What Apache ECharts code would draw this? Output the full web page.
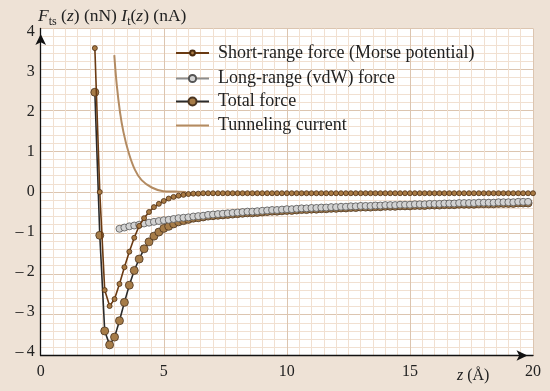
<!DOCTYPE html>
<html>
<head>
<meta charset="utf-8">
<script src="https://cdn.jsdelivr.net/npm/echarts@6/dist/echarts.min.js"></script>
<style>
html,body{margin:0;padding:0;background:#EEE2D6;}
#chart{width:550px;height:391px;}
</style>
</head>
<body>
<div id="chart"></div>
<script>
// z positions (Å) shared by the force curves
var zGrid = [2.2, 2.4, 2.6, 2.8,
  3.0, 3.2, 3.4, 3.6, 3.8,
  4.0, 4.2, 4.4, 4.6, 4.8,
  5.0, 5.2, 5.4, 5.6, 5.8,
  6.0, 6.2, 6.4, 6.6, 6.8,
  7.0, 7.2, 7.4, 7.6, 7.8,
  8.0, 8.2, 8.4, 8.6, 8.8,
  9.0, 9.2, 9.4, 9.6, 9.8,
  10.0, 10.2, 10.4, 10.6, 10.8,
  11.0, 11.2, 11.4, 11.6, 11.8,
  12.0, 12.2, 12.4, 12.6, 12.8,
  13.0, 13.2, 13.4, 13.6, 13.8,
  14.0, 14.2, 14.4, 14.6, 14.8,
  15.0, 15.2, 15.4, 15.6, 15.8,
  16.0, 16.2, 16.4, 16.6, 16.8,
  17.0, 17.2, 17.4, 17.6, 17.8,
  18.0, 18.2, 18.4, 18.6, 18.8,
  19.0, 19.2, 19.4, 19.6, 19.8,
  20.0];

// Short-range force (Morse potential), nN
var fShort = [3.52, 0.00, -2.40, -2.79,
  -2.62, -2.25, -1.84, -1.46, -1.12,
  -0.83, -0.64, -0.49, -0.37, -0.29,
  -0.22, -0.16, -0.12, -0.09, -0.07,
  -0.05, -0.04, -0.04, -0.03, -0.03,
  -0.03, -0.03, -0.03, -0.03, -0.03,
  -0.03, -0.03, -0.03, -0.03, -0.03,
  -0.03, -0.03, -0.03, -0.03, -0.03,
  -0.03, -0.03, -0.03, -0.03, -0.03,
  -0.03, -0.03, -0.03, -0.03, -0.03,
  -0.03, -0.03, -0.03, -0.03, -0.03,
  -0.03, -0.03, -0.03, -0.03, -0.03,
  -0.03, -0.03, -0.03, -0.03, -0.03,
  -0.03, -0.03, -0.03, -0.03, -0.03,
  -0.03, -0.03, -0.03, -0.03, -0.03,
  -0.03, -0.03, -0.03, -0.03, -0.03,
  -0.03, -0.03, -0.03, -0.03, -0.03,
  -0.03, -0.03, -0.03, -0.03, -0.03,
  -0.03];

// Long-range (vdW) force, nN
var fLong = [null, null, null, null,
  null, -0.90, -0.87, -0.84, -0.82,
  -0.80, -0.77, -0.75, -0.73, -0.71,
  -0.69, -0.68, -0.66, -0.64, -0.63,
  -0.62, -0.60, -0.59, -0.58, -0.56,
  -0.55, -0.54, -0.53, -0.52, -0.51,
  -0.50, -0.49, -0.48, -0.48, -0.47,
  -0.46, -0.45, -0.44, -0.44, -0.43,
  -0.42, -0.42, -0.41, -0.40, -0.40,
  -0.39, -0.39, -0.38, -0.38, -0.37,
  -0.37, -0.36, -0.36, -0.35, -0.35,
  -0.34, -0.34, -0.34, -0.33, -0.33,
  -0.32, -0.32, -0.32, -0.31, -0.31,
  -0.31, -0.30, -0.30, -0.30, -0.29,
  -0.29, -0.29, -0.28, -0.28, -0.28,
  -0.27, -0.27, -0.27, -0.27, -0.26,
  -0.26, -0.26, -0.26, -0.25, -0.25,
  -0.25, -0.25, -0.24, -0.24, -0.24,
  null];

// Total force, nN
var fTotal = [2.44, -1.06, -3.40, -3.74,
  -3.55, -3.15, -2.70, -2.28, -1.92,
  -1.64, -1.39, -1.22, -1.08, -0.98,
  -0.89, -0.84, -0.78, -0.73, -0.70,
  -0.67, -0.64, -0.63, -0.61, -0.59,
  -0.58, -0.57, -0.56, -0.55, -0.54,
  -0.53, -0.52, -0.51, -0.51, -0.50,
  -0.49, -0.48, -0.47, -0.47, -0.46,
  -0.45, -0.45, -0.44, -0.43, -0.43,
  -0.42, -0.42, -0.41, -0.41, -0.40,
  -0.40, -0.39, -0.39, -0.38, -0.38,
  -0.37, -0.37, -0.37, -0.36, -0.36,
  -0.35, -0.35, -0.35, -0.34, -0.34,
  -0.34, -0.33, -0.33, -0.33, -0.32,
  -0.32, -0.32, -0.31, -0.31, -0.31,
  -0.30, -0.30, -0.30, -0.30, -0.29,
  -0.29, -0.29, -0.29, -0.28, -0.28,
  -0.28, -0.28, -0.27, -0.27, -0.27,
  null];

// Tunneling current, nA
var zTunnel = [2.99, 3.09, 3.22, 3.36, 3.56, 3.83, 4.10, 4.51, 4.98, 5.46, 5.90];
var iTunnel = [3.35, 2.62, 1.96, 1.47, 0.99, 0.54, 0.29, 0.11, 0.02, 0.01, 0.00];

var seriesNames = ['Short-range force (Morse potential)', 'Long-range (vdW) force', 'Total force', 'Tunneling current'];
var xTicks = [0, 5, 10, 15, 20];
var yTicks = [-4, -3, -2, -1, 0, 1, 2, 3, 4];

function pairs(xs, ys) {
  var out = [];
  for (var i = 0; i < xs.length; i++) {
    if (ys[i] !== null && ys[i] !== undefined) out.push([xs[i], ys[i]]);
  }
  return out;
}

var SERIF = '"Liberation Serif", "DejaVu Serif", serif';

// y tick labels sit slightly compressed relative to the grid in the original
var yLabelRich = {};
yTicks.forEach(function (v, k) {
  var d = -0.25 + 0.86 * v; // px shift downward
  var pad = d >= 0 ? [2 * d, 0, 0, 0] : [0, 0, -2 * d, 0];
  yLabelRich['y' + k] = {fontFamily: SERIF, fontSize: 16, color: '#222', padding: pad};
});

function legendBox(name, top, h, hideSymbol) {
  var item = {name: name};
  if (hideSymbol) item.itemStyle = {opacity: 0};
  return {
    orient: 'vertical', left: 175, top: top, padding: 0,
    itemWidth: 33, itemHeight: h,
    data: [item],
    textStyle: {fontFamily: SERIF, fontSize: 18, color: '#222', lineHeight: 18, padding: [0, 0, 0, 4]}
  };
}

var chart = echarts.init(document.getElementById('chart'), null, {renderer: 'canvas'});

chart.setOption({
  backgroundColor: '#EEE2D6',
  animation: false,
  title: {
    left: 33, top: 1,
    text: '{i|F}{s|ts}{n| (}{i|z}{n|) (nN) }{i|I}{s|t}{n|(}{i|z}{n|) (nA)}',
    textStyle: {
      fontWeight: 'normal',
      rich: {
        i: {fontFamily: SERIF, fontStyle: 'italic', fontWeight: 'normal', fontSize: 17.5, color: '#222', verticalAlign: 'bottom', lineHeight: 19},
        n: {fontFamily: SERIF, fontWeight: 'normal', fontSize: 17.5, color: '#222', verticalAlign: 'bottom', lineHeight: 19},
        s: {fontFamily: SERIF, fontWeight: 'normal', fontSize: 12, color: '#222', verticalAlign: 'bottom', lineHeight: 12, padding: [0, 0, -3, 0]}
      }
    }
  },
  grid: {
    left: 40.7, right: 17, top: 28.5, bottom: 35.5,
    show: true, backgroundColor: '#ffffff', borderWidth: 0
  },
  legend: [
    legendBox(seriesNames[0], 44, 6, false),
    legendBox(seriesNames[1], 69.5, 9, false),
    legendBox(seriesNames[2], 92.5, 10, false),
    legendBox(seriesNames[3], 116.5, 9, true)
  ],
  xAxis: {
    type: 'value', min: xTicks[0], max: xTicks[xTicks.length - 1], interval: 5,
    axisLine: {onZero: false, lineStyle: {color: '#111', width: 1.3}, symbol: ['none', 'arrow'], symbolSize: [8, 11], symbolOffset: [0, -5.5]},
    axisTick: {show: false},
    axisLabel: {fontFamily: SERIF, fontSize: 16, color: '#222', margin: 8},
    splitLine: {show: true, lineStyle: {color: '#DCC5B0', width: 1}},
    minorTick: {show: false, splitNumber: 10},
    minorSplitLine: {show: true, lineStyle: {color: '#F1E0D1', width: 1}}
  },
  yAxis: {
    type: 'value', min: yTicks[0], max: yTicks[yTicks.length - 1], interval: 1,
    axisLine: {show: true, onZero: false, lineStyle: {color: '#111', width: 1.3}, symbol: ['none', 'arrow'], symbolSize: [8, 11], symbolOffset: [0, -5.5]},
    axisTick: {show: false},
    axisLabel: {
      margin: 6,
      formatter: function (v) {
        var k = yTicks.indexOf(v);
        var t = v < 0 ? '\u2013\u2009' + Math.abs(v) : String(v);
        return '{y' + k + '|' + t + '}';
      },
      rich: yLabelRich
    },
    splitLine: {show: true, lineStyle: {color: '#DCC5B0', width: 1}},
    minorTick: {show: false, splitNumber: 5},
    minorSplitLine: {show: true, lineStyle: {color: '#F1E0D1', width: 1}}
  },
  graphic: [{
    type: 'text', left: 457, top: 368, z: 100,
    style: {
      text: '{i|z}{n| (Å)}',
      rich: {
        i: {fontFamily: SERIF, fontStyle: 'italic', fontSize: 16, fill: '#222'},
        n: {fontFamily: SERIF, fontSize: 16, fill: '#222'}
      }
    }
  }],
  series: [
    {
      name: seriesNames[0], type: 'line', z: 4,
      data: pairs(zGrid, fShort),
      symbol: 'circle', symbolSize: 5, showAllSymbol: true,
      lineStyle: {color: '#6A3A12', width: 1.6},
      itemStyle: {color: '#A97B45', borderColor: '#4B2C10', borderWidth: 0.8}
    },
    {
      name: seriesNames[1], type: 'line', z: 3,
      data: pairs(zGrid, fLong),
      symbol: 'circle', symbolSize: 7, showAllSymbol: true,
      lineStyle: {color: '#8C8C8C', width: 1.6},
      itemStyle: {color: '#D2D2D2', borderColor: '#555555', borderWidth: 0.8}
    },
    {
      name: seriesNames[2], type: 'line', z: 2,
      data: pairs(zGrid, fTotal),
      symbol: 'circle', symbolSize: 8, showAllSymbol: true,
      lineStyle: {color: '#2A2A2A', width: 1.6},
      itemStyle: {color: '#A67C48', borderColor: '#4A3420', borderWidth: 0.8}
    },
    {
      name: seriesNames[3], type: 'line', z: 1,
      data: pairs(zTunnel, iTunnel),
      symbol: 'none', smooth: 0.4,
      lineStyle: {color: '#B38B62', width: 2},
      itemStyle: {color: '#B38B62'}
    }
  ]
});
</script>
</body>
</html>
